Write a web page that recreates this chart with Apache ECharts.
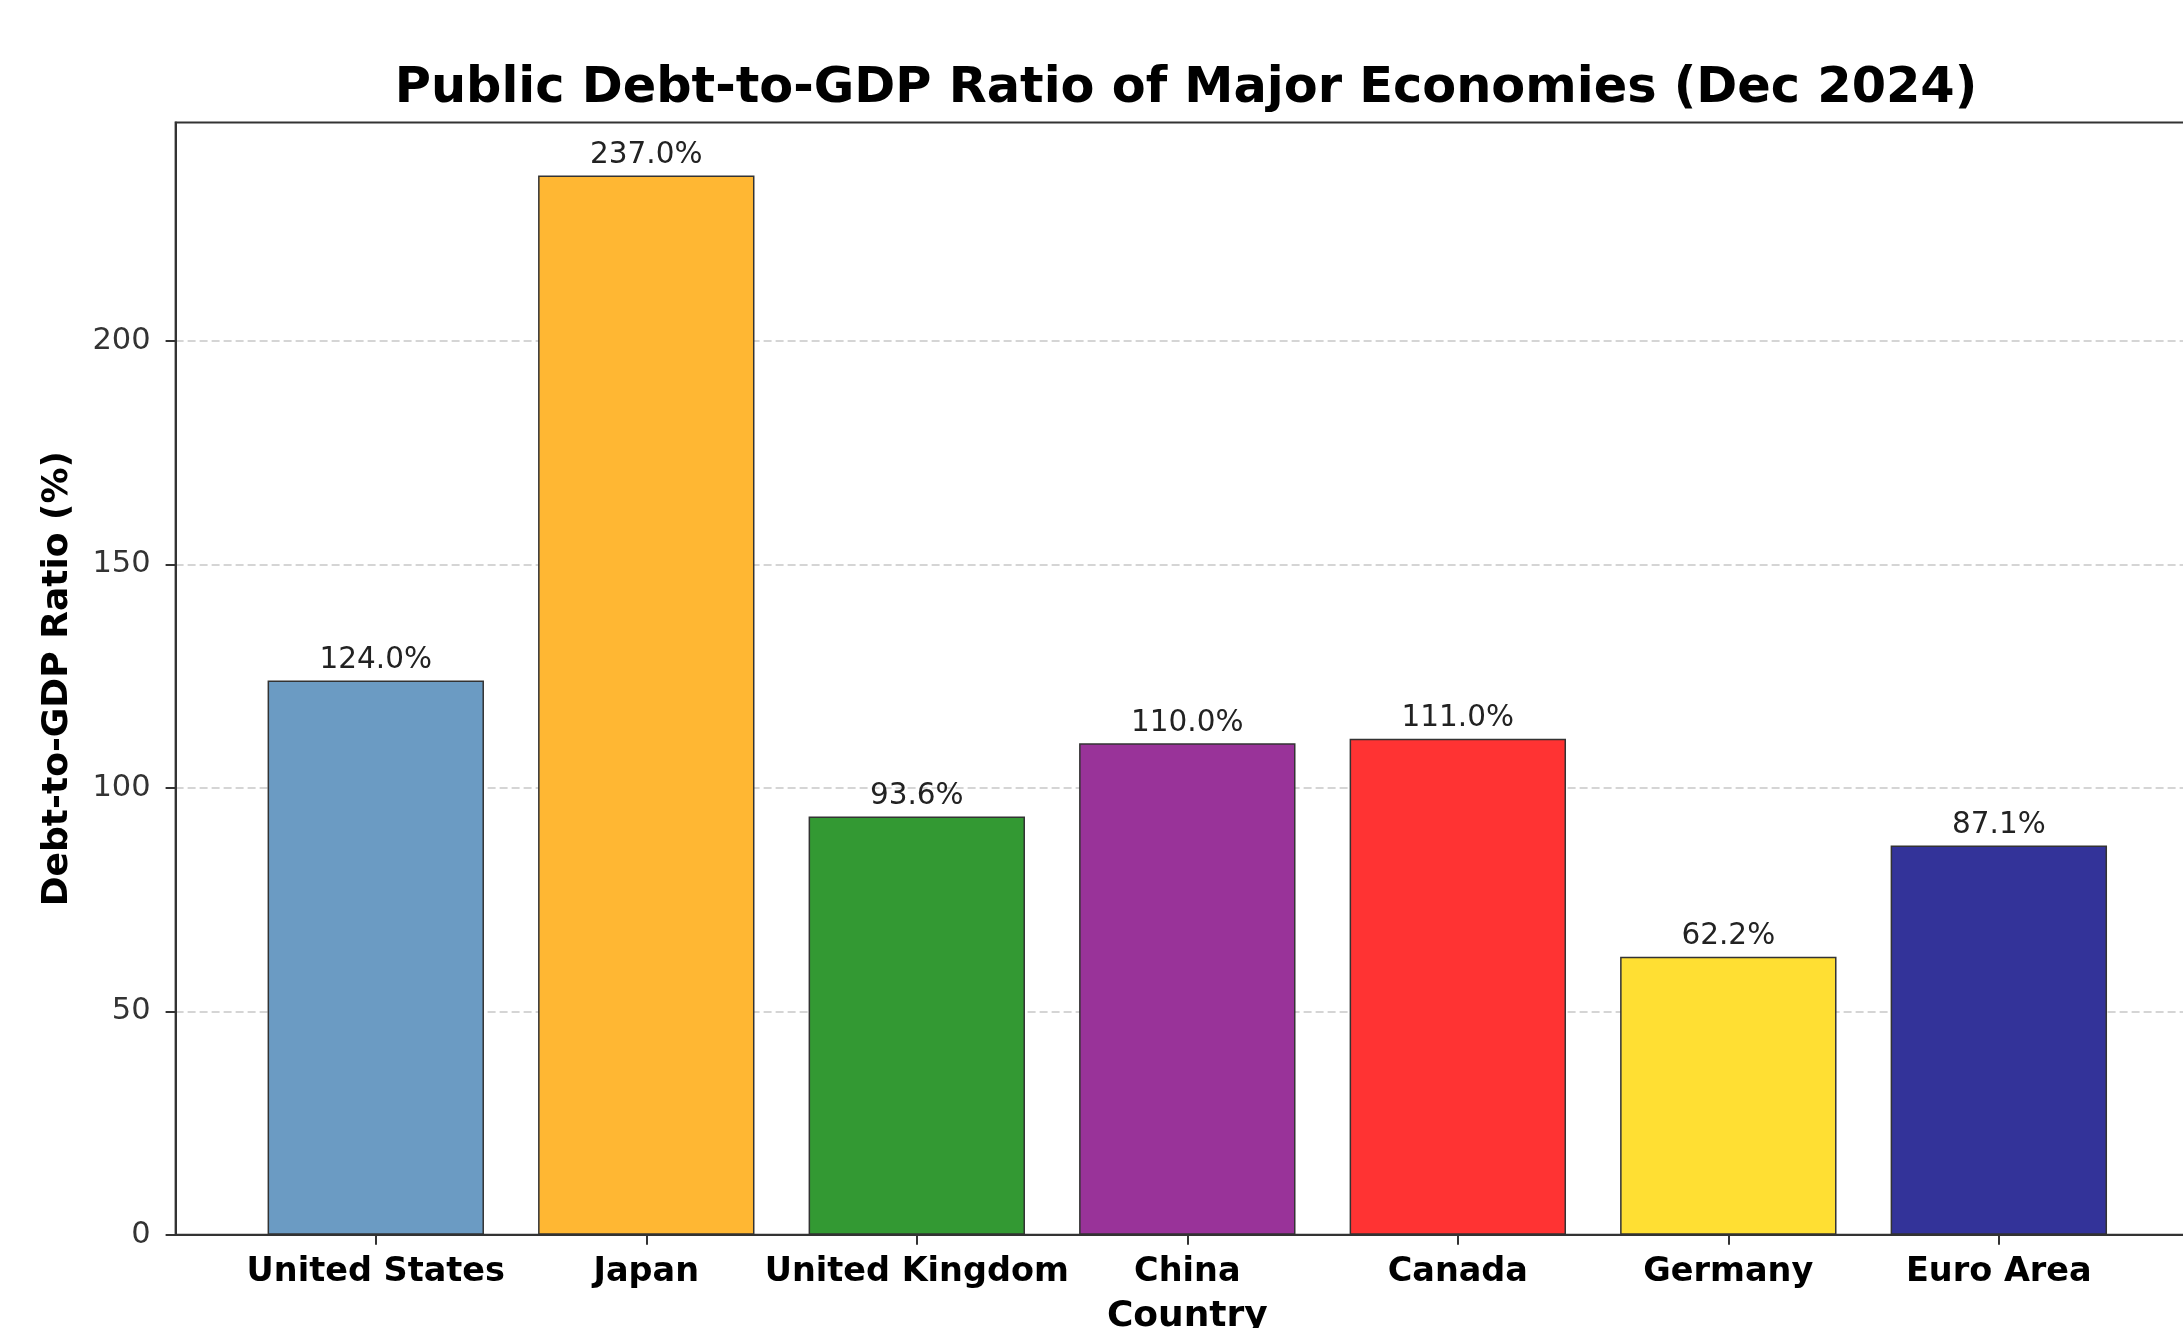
<!DOCTYPE html>
<html>
<head>
<meta charset="utf-8">
<script src="https://cdn.jsdelivr.net/npm/echarts@6/dist/echarts.min.js"></script>
<style>
html,body{margin:0;padding:0;background:#fff;}
#chart{width:2183px;height:1328px;}
</style>
</head>
<body>
<div id="chart"></div>
<script>
const countries = ['United States', 'Japan', 'United Kingdom', 'China', 'Canada', 'Germany', 'Euro Area'];
const debtRatios = [124.0, 237.0, 93.6, 110.0, 111.0, 62.2, 87.1];
const barColors = ['#6b9bc3', '#ffb733', '#339933', '#993399', '#ff3333', '#ffdf33', '#333399'];
const yTicks = [0, 50, 100, 150, 200];

const FONT = 'DejaVu Sans';
const yMax = Math.max(...debtRatios) * 1.05;
const xPad = 0.74;

const chart = echarts.init(document.getElementById('chart'), null, {renderer: 'canvas'});
chart.setOption({
  backgroundColor: '#ffffff',
  animation: false,
  title: {
    text: 'Public Debt-to-GDP Ratio of Major Economies (Dec 2024)',
    left: 1181, textAlign: 'center', top: 60,
    textStyle: {fontFamily: FONT, fontWeight: 'bold', fontSize: 49.4, color: '#000'}
  },
  grid: {
    left: 175.6, top: 122.5, width: 2023.4, height: 1112.3,
    outerBoundsMode: 'none', containLabel: false,
    show: true, borderColor: '#333', borderWidth: 2, backgroundColor: 'transparent'
  },
  xAxis: {
    type: 'value',
    min: -xPad, max: countries.length - 1 + xPad,
    axisLine: {show: true, onZero: false, lineStyle: {color: '#333', width: 2}},
    axisTick: {show: true, customValues: countries.map((c, i) => i), length: 10, lineStyle: {color: '#333', width: 2}},
    axisLabel: {
      customValues: countries.map((c, i) => i),
      formatter: v => countries[Math.round(v)] || '',
      fontFamily: FONT, fontWeight: 'bold', fontSize: 33.5, color: '#000', margin: 20
    },
    splitLine: {show: false},
    name: 'Country', nameLocation: 'middle', nameGap: 64,
    nameTextStyle: {fontFamily: FONT, fontWeight: 'bold', fontSize: 36, color: '#000'}
  },
  yAxis: {
    type: 'value', min: 0, max: yMax, interval: 50,
    axisLine: {show: true, onZero: false, lineStyle: {color: '#333', width: 2}},
    axisTick: {show: true, customValues: yTicks, length: 10, lineStyle: {color: '#333', width: 2}},
    axisLabel: {
      customValues: yTicks,
      fontFamily: FONT, fontSize: 30.5, color: '#333', margin: 25
    },
    splitLine: {show: true, lineStyle: {color: '#c8c8c8', width: 1.5, type: [8, 4]}},
    name: 'Debt-to-GDP Ratio (%)', nameLocation: 'middle', nameGap: 100,
    nameTextStyle: {fontFamily: FONT, fontWeight: 'bold', fontSize: 36, color: '#000'}
  },
  series: [{
    type: 'bar',
    barWidth: 216.4,
    data: debtRatios.map((v, i) => ({
      value: [i, v],
      itemStyle: {color: barColors[i], borderColor: '#333', borderWidth: 1.5}
    })),
    label: {
      show: true, position: 'top', distance: 5,
      formatter: p => p.value[1].toFixed(1) + '%',
      fontFamily: FONT, fontSize: 29.5, color: '#222'
    }
  }]
});
</script>
</body>
</html>
